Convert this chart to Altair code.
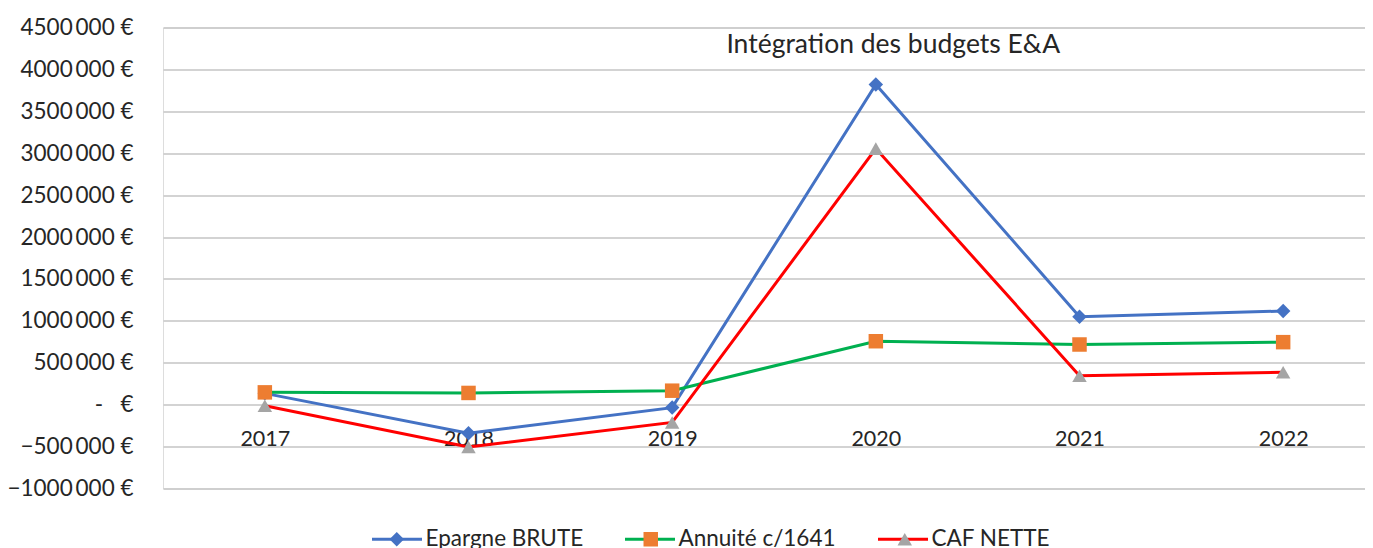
import altair as alt
import pandas as pd

years = ["2017", "2018", "2019", "2020", "2021", "2022"]
series_names = ["Epargne BRUTE", "Annuité c/1641", "CAF NETTE"]
epargne = [135000, -340000, -35000, 3820000, 1050000, 1117000]
annuite = [147000, 140000, 167000, 757000, 718000, 746000]
caf = [-12000, -505000, -212000, 3055000, 346000, 387000]
line_colors = ["#4472C4", "#00B050", "#FF0000"]
marker_colors = ["#4472C4", "#ED7D31", "#A5A5A5"]
marker_shapes = ["diamond", "square", "triangle-up"]
y_ticks = list(range(-1000000, 4500001, 500000))
annotation_text = ["Intégration des budgets E&A"]
annotation_year = ["2020"]
annotation_value = [4190000]

# marker keys carry an invisible suffix so the marker legend stays separate
marker_names = [n + "\u200b" for n in series_names]

rows = []
for i, (name, mname, vals) in enumerate(zip(series_names, marker_names, [epargne, annuite, caf])):
    for yr, v in zip(years, vals):
        rows.append({"Année": yr, "Série": name, "Marqueur": mname, "Valeur": v, "ordre": i})
df = pd.DataFrame(rows)
df_annot = pd.DataFrame({"Année": annotation_year, "Valeur": annotation_value, "texte": annotation_text})

FONT = "Lato"
TXT = "#262626"

x_scale = alt.Scale(type="point", padding=0.5, domain=years, range=[0, 1222])
y_scale = alt.Scale(domain=[-1000000, 4500000], nice=False, zero=False)

x_enc = alt.X(
    "Année:N", sort=years, scale=x_scale,
    axis=alt.Axis(title=None, labelAngle=0, offset=-83.5, domain=False, ticks=False,
                  labelPadding=23, labelFont=FONT, labelFontSize=21.5, labelColor=TXT, grid=False),
)
y_enc = alt.Y(
    "Valeur:Q", scale=y_scale,
    axis=alt.Axis(title=None, values=y_ticks, domain=False, ticks=False, labelPadding=30,
                  labelFont=FONT, labelFontSize=22.5, labelColor=TXT,
                  grid=True, gridColor="#c4c4c4", gridWidth=1.5,
                  labelExpr="datum.value == 0 ? '-\u00a0\u00a0\u00a0€' : format(datum.value/1000, 'd') + '\u2009000\u00a0€'"),
)

LEG_FS = 22.5
common_leg = dict(orient="none", direction="horizontal", title=None, labelFont=FONT,
                  labelFontSize=LEG_FS, labelColor=TXT, padding=0,
                  clipHeight=20, legendX=207.5, legendY=501.5)

lines = alt.Chart(df).mark_line(strokeWidth=3).encode(
    x=x_enc, y=y_enc,
    color=alt.Color("Série:N", scale=alt.Scale(domain=series_names, range=line_colors),
                    legend=alt.Legend(symbolType="stroke", symbolSize=2500, symbolStrokeWidth=3,
                                      labelOffset=2, columnPadding=40, zindex=1, **common_leg)),
    order="ordre:Q",
)

# marker legend: symbols only, laid over the line legend's strokes
leg2 = dict(symbolSize=210, symbolStrokeWidth=0, symbolOffset=15, labelOffset=32,
            columnPadding=184, labelExpr="''", zindex=2, **common_leg)
points = alt.Chart(df).mark_point(filled=True, size=210, opacity=1, strokeWidth=0).encode(
    x=x_enc, y=y_enc,
    fill=alt.Fill("Marqueur:N", scale=alt.Scale(domain=marker_names, range=marker_colors),
                  legend=alt.Legend(**leg2)),
    shape=alt.Shape("Marqueur:N", scale=alt.Scale(domain=marker_names, range=marker_shapes),
                    legend=alt.Legend(**leg2)),
)

annot = alt.Chart(df_annot).mark_text(dx=17.5, baseline="alphabetic", font=FONT, fontSize=26.5,
                                      color=TXT).encode(
    x=alt.X("Année:N", sort=years, scale=x_scale),
    y=alt.Y("Valeur:Q", scale=y_scale),
    text="texte:N",
)

chart = alt.layer(lines, points, annot).properties(
    width=1202, height=461,
    autosize=alt.AutoSizeParams(type="none"),
    padding={"left": 155, "top": 19.5, "right": 0, "bottom": 60},
).configure_view(stroke=None).configure(background="white")

chart.save("out.html", embed_options={"renderer": "svg", "actions": False})
